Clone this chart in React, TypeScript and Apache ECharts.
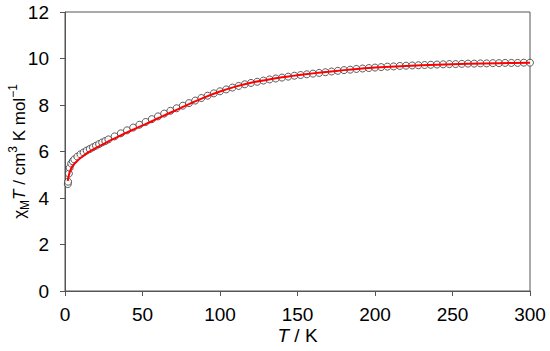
import React, { useEffect, useRef } from "react";
import * as echarts from "echarts";

// Measured data (T in K, chi_M T in cm3 K mol-1)
const tempK = [
  1.8, 2, 2.5, 3, 4, 5, 6, 8, 10, 12, 14, 16, 18, 20, 22, 24, 26, 28,
  32, 36, 40, 44, 48, 52, 56, 60, 64, 68, 72, 76, 80, 84, 88, 92, 96, 100,
  104, 108, 112, 116, 120, 124, 128, 132, 136, 140, 144, 148, 152, 156, 160,
  164, 168, 172, 176, 180, 184, 188, 192, 196, 200, 204, 208, 212, 216, 220,
  224, 228, 232, 236, 240, 244, 248, 252, 256, 260, 264, 268, 272, 276, 280,
  284, 288, 292, 296, 300,
];
const chiT = [
  4.6, 4.7, 5.05, 5.3, 5.48, 5.58, 5.66, 5.78, 5.88, 5.96, 6.04, 6.11, 6.18, 6.25, 6.32, 6.39, 6.45, 6.52,
  6.65, 6.78, 6.91, 7.03, 7.15, 7.27, 7.39, 7.51, 7.63, 7.75, 7.86, 7.97, 8.08, 8.19, 8.3, 8.4, 8.5, 8.59,
  8.67, 8.75, 8.82, 8.89, 8.95, 9.0, 9.05, 9.1, 9.14, 9.18, 9.22, 9.26, 9.29, 9.32, 9.35,
  9.38, 9.41, 9.44, 9.47, 9.5, 9.52, 9.55, 9.57, 9.59, 9.61, 9.63, 9.65, 9.66, 9.68, 9.69,
  9.7, 9.71, 9.72, 9.73, 9.74, 9.75, 9.76, 9.76, 9.77, 9.78, 9.78, 9.79, 9.79, 9.8, 9.8,
  9.81, 9.81, 9.81, 9.82, 9.82,
];

// Fitted curve
const fitT = [
  1.8, 2, 2.5, 3, 4, 5, 6, 8, 10, 12, 15, 20, 25, 30, 35, 40, 45, 50, 55, 60, 65, 70, 80,
  90, 100, 110, 120, 130, 140, 150, 160, 170, 180, 190, 200, 220, 240, 260, 280, 300,
];
const fitChiT = [
  4.74, 4.82, 4.98, 5.1, 5.27, 5.38, 5.47, 5.6, 5.72, 5.82, 5.96, 6.16, 6.33, 6.5, 6.66, 6.82, 6.97, 7.12, 7.27, 7.43, 7.58, 7.73, 8.04,
  8.33, 8.58, 8.79, 8.96, 9.08, 9.19, 9.28, 9.36, 9.43, 9.5, 9.56, 9.61, 9.68, 9.73, 9.77, 9.8, 9.82,
];

const xTicks = { min: 0, max: 300, interval: 50 };
const yTicks = { min: 0, max: 12, interval: 2 };

export default function App() {
  const ref = useRef<HTMLDivElement>(null);
  useEffect(() => {
    if (!ref.current) return;
    const chart = echarts.init(ref.current, undefined, { renderer: "svg" });
    const font = "Liberation Sans, Arial, sans-serif";
    const axisColor = "#555555";
    chart.setOption({
      animation: false,
      textStyle: { fontFamily: font },
      grid: {
        left: 65,
        right: 20,
        top: 12,
        bottom: 60,
        outerBoundsMode: "none",
        containLabel: false,
        show: true,
        borderColor: axisColor,
        borderWidth: 1,
        backgroundColor: "transparent",
      },
      xAxis: {
        type: "value",
        min: xTicks.min,
        max: xTicks.max,
        interval: xTicks.interval,
        splitLine: { show: false },
        axisLine: { show: true, onZero: false, lineStyle: { color: axisColor, width: 1 } },
        axisTick: { show: true, inside: false, length: 5, lineStyle: { color: axisColor } },
        axisLabel: { color: "#000", fontSize: 19, fontFamily: font, margin: 14 },
        name: "{i|T} / K",
        nameLocation: "middle",
        nameGap: 35,
        nameMoveOverlap: false,
        nameTextStyle: {
          color: "#000",
          fontSize: 19,
          fontFamily: font,
          rich: {
            i: { fontStyle: "italic", fontSize: 19, fontFamily: font, color: "#000" },
          },
        },
      },
      yAxis: {
        type: "value",
        min: yTicks.min,
        max: yTicks.max,
        interval: yTicks.interval,
        splitLine: { show: false },
        axisLine: { show: true, onZero: false, lineStyle: { color: axisColor, width: 1 } },
        axisTick: { show: true, inside: false, length: 5, lineStyle: { color: axisColor } },
        axisLabel: { color: "#000", fontSize: 19, fontFamily: font, margin: 16 },
        name: "{t|χ}{sub|M}{i|T}{t| / cm}{sup|3}{t| K mol}{sup|−1}",
        nameLocation: "middle",
        nameGap: 34,
        nameMoveOverlap: false,
        nameTextStyle: {
          color: "#000",
          fontSize: 17,
          fontFamily: font,
          rich: {
            t: { fontSize: 17, fontFamily: font, color: "#000", lineHeight: 24 },
            i: { fontSize: 17, fontFamily: font, color: "#000", fontStyle: "italic", lineHeight: 24 },
            sub: { fontSize: 12, fontFamily: font, color: "#000", verticalAlign: "bottom", lineHeight: 24 },
            sup: { fontSize: 12, fontFamily: font, color: "#000", verticalAlign: "top", lineHeight: 24 },
          },
        },
      },
      series: [
        {
          type: "scatter",
          data: tempK.map((t, i) => [t, chiT[i]]),
          symbol: "circle",
          symbolSize: 7,
          itemStyle: { color: "#ffffff", borderColor: "#333333", borderWidth: 1 },
          z: 2,
        },
        {
          type: "line",
          data: fitT.map((t, i) => [t, fitChiT[i]]),
          showSymbol: false,
          symbol: "none",
          smooth: 0.3,
          lineStyle: { color: "#ff0000", width: 2 },
          z: 3,
        },
      ],
    });
    return () => chart.dispose();
  }, []);
  return (
    <div
      ref={ref}
      style={{ position: "fixed", left: 0, top: 0, width: 550, height: 351, background: "#fff" }}
    />
  );
}
